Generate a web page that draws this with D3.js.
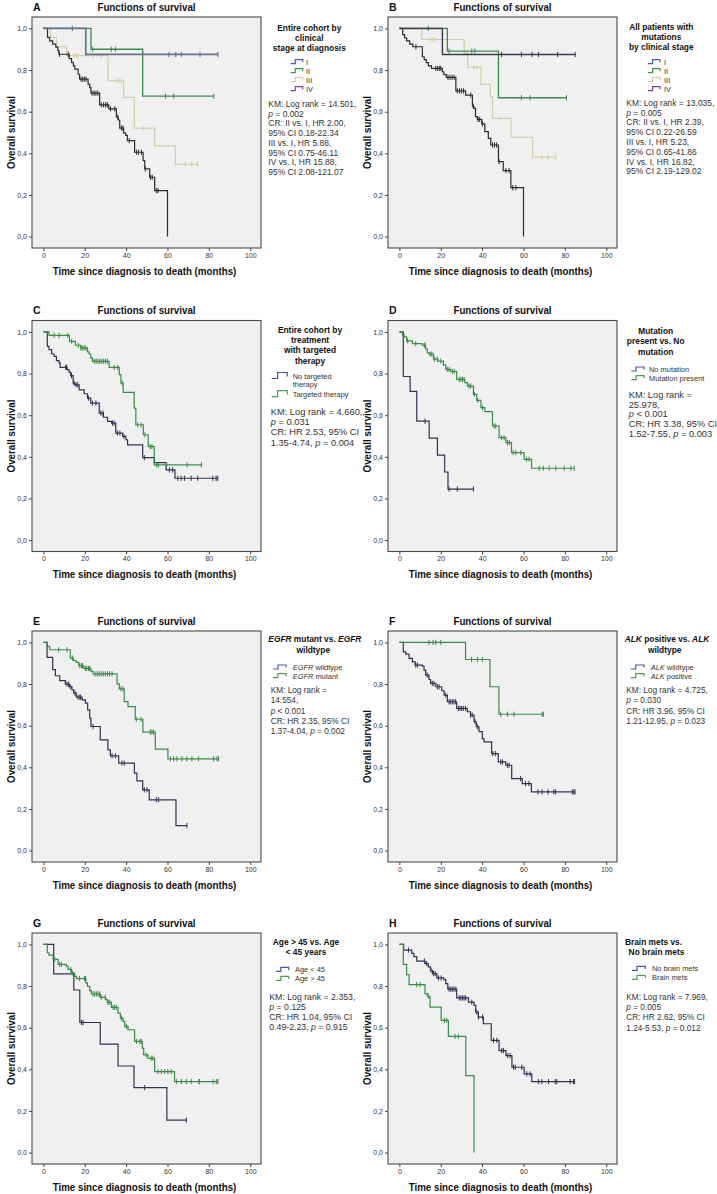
<!DOCTYPE html>
<html><head><meta charset="utf-8">
<script src="https://cdn.jsdelivr.net/npm/d3@7"></script>
<style>body{margin:0;background:#fff}svg{display:block}text{font-family:"Liberation Sans",Arial,sans-serif}</style>
</head><body><svg id="c" width="717" height="1194"></svg>
<script>
// ---------- tick labels ----------
const xTicks = [0, 20, 40, 60, 80, 100];
const yTicks = [0, 0.2, 0.4, 0.6, 0.8, 1.0];

// ---------- Panel A: entire cohort by clinical stage ----------
const A_I_events = [[20.5,0.875]];
const A_I_censored = [48,60.7,64,66.7,75.7,84.4];
const A_II_events = [[23,0.90],[48,0.675]];
const A_II_censored = [14,23.8,32.8,34.8,59,63,82.4];
const A_III_events = [[3.5,0.957],[6.3,0.913],[11.2,0.869],[31.3,0.749],[38.8,0.669],[44,0.521],[53.8,0.436],[63.8,0.347]];
const A_III_censored = [14.8,15.8,16.8,24,28,35.3,36.5,37.7,48.5,68.6,71.7,74.6];
const A_IV_events = [[2,0.957],[3,0.94],[4.5,0.925],[6,0.91],[7,0.893],[7.5,0.876],[12.5,0.855],[13.6,0.837],[14.5,0.82],[15.2,0.805],[16.8,0.78],[17.5,0.756],[21.6,0.732],[22.4,0.716],[23,0.689],[27.2,0.633],[31.6,0.614],[35.3,0.574],[36.2,0.56],[36.9,0.521],[38.8,0.497],[39.8,0.486],[40.6,0.461],[44.1,0.405],[48.2,0.365],[49,0.325],[51.4,0.285],[53.8,0.221],[60,0]];
const A_IV_censored = [7.8,12,18.2,19,19.8,20.6,23.5,24.5,25.4,26.3,28,29.1,30.1,30.9,32.5,34.5,36,37.8,38.5,41.5,45,46,47.4,49.3,51.8,52.6,54.6,55.4];

// ---------- Panel B: patients with mutations by clinical stage ----------
const B_I_events = [[20.8,0.875]];
const B_I_censored = [49.4,59,64.2,67.3,76.5,85];
const B_II_events = [[23.2,0.891],[47.9,0.667]];
const B_II_censored = [14,24,35,36.5,59,63.2,80.8];
const B_III_events = [[10.8,0.947],[31.3,0.88],[33,0.813],[39.4,0.731],[44,0.672],[45,0.568],[54,0.477],[64.4,0.382]];
const B_III_censored = [14.8,16,17.3,36,37.5,48.5,69,72,75.6];
const B_IV_events = [[1.6,0.97],[2.5,0.955],[3.5,0.94],[5,0.925],[6.5,0.912],[11.1,0.864],[12,0.85],[13,0.836],[14,0.82],[15.5,0.808],[20.8,0.792],[21.5,0.778],[22.7,0.765],[27.3,0.70],[32,0.68],[35.3,0.627],[36,0.616],[36.8,0.576],[37.7,0.563],[39.8,0.541],[41.3,0.504],[43,0.472],[44.2,0.44],[47.9,0.36],[50.2,0.317],[53.9,0.235],[60,0]];
const B_IV_censored = [8,17.6,18.5,19.3,20,23.5,24.5,25.5,26.5,28,29,30,31,34.5,35.7,38,38.8,40.2,45,46,47,48.2,51.5,53,54.8,56.3];

// ---------- Panel C: targeted therapy ----------
const C_noTT_events = [[1.9,0.931],[2.7,0.915],[4,0.894],[5.2,0.883],[6.3,0.862],[7.6,0.851],[8.1,0.83],[11.5,0.819],[12.4,0.807],[13.2,0.79],[14.4,0.754],[15.3,0.746],[17.3,0.722],[19.7,0.703],[21.3,0.682],[22.9,0.658],[27,0.61],[29,0.59],[31,0.57],[33,0.562],[35,0.514],[38.3,0.498],[39.9,0.482],[40.7,0.457],[48,0.396],[53.6,0.372],[59.3,0.337],[63.6,0.297]];
const C_noTT_censored = [10.8,11.2,13.6,14.8,15.8,16.6,21.8,23.7,25.4,27.8,28.8,33.4,34.2,35.8,37,39,48.8,60.9,62.5,65,66.6,68.2,71.4,74.6,81.9,83.5,84.3];
const C_TT_events = [[2.7,0.984],[12.6,0.955],[15.5,0.936],[18.1,0.923],[21.3,0.904],[22.1,0.894],[22.9,0.875],[23.7,0.859],[31.8,0.83],[36.7,0.795],[37.5,0.754],[38.6,0.71],[43.9,0.634],[44.7,0.554],[48.3,0.506],[50.7,0.449],[53.6,0.361]];
const C_TT_censored = [5.2,7.6,11.8,13.7,16.9,18.1,18.8,19.7,20.5,24.6,25.5,26.4,27.3,28.2,29.1,30,30.9,34.2,35.9,38.1,45.6,47.2,49.1,51.6,52.5,54.8,55.6,59.6,69.5,76.4];

// ---------- Panel D: mutation present vs none ----------
const D_noMut_events = [[1.9,0.786],[5.2,0.714],[8.4,0.571],[14.4,0.49],[18.4,0.408],[21.9,0.327],[23.5,0.245]];
const D_noMut_censored = [12.4,24,28,35.8];
const D_mut_events = [[1.5,0.986],[2.3,0.976],[3.5,0.957],[6.3,0.944],[11,0.936],[12.7,0.917],[13.5,0.9],[14.4,0.893],[16.5,0.869],[18.6,0.86],[21.3,0.841],[22.4,0.82],[24.8,0.81],[27.7,0.772],[31.6,0.756],[32.9,0.74],[35.8,0.7],[37.4,0.671],[39.4,0.636],[41.3,0.617],[45,0.548],[48.2,0.492],[51.5,0.468],[54.2,0.42],[60.3,0.388],[63.9,0.345]];
const D_mut_censored = [4,7.9,12,12.4,14.9,15.7,17.1,18.4,20,23.2,24,25.6,26.5,28.9,29.7,30.5,31.3,33.7,34.5,36.3,37.9,40.2,45.8,46.6,49.4,50.6,52.3,53.1,55,56.3,58.7,61.5,62.7,67.6,69.5,72.4,75.6,79.7,82.9,84.5];

// ---------- Panel E: EGFR ----------
const E_wt_events = [[1.8,0.928],[4.5,0.869],[5.8,0.84],[7.9,0.817],[10.6,0.8],[12.5,0.788],[13.8,0.772],[14.7,0.756],[15.9,0.737],[18.7,0.724],[20.3,0.708],[21.4,0.676],[22.4,0.636],[23,0.596],[27.5,0.532],[31.2,0.484],[32.4,0.455],[36.4,0.42],[44,0.372],[45.2,0.335],[48,0.292],[51.2,0.244],[64.1,0.12]];
const E_wt_censored = [11.4,12.2,13,15.3,16.7,17.6,18,24,33.2,34.8,38,39.1,48.8,50.1,54.6,55.7,69.4];
const E_mut_events = [[1.8,0.981],[3.1,0.965],[13,0.925],[14.5,0.913],[15.9,0.904],[17.1,0.888],[19.5,0.875],[23,0.861],[24,0.849],[35.6,0.801],[36.7,0.777],[39.1,0.716],[40.9,0.692],[44.4,0.631],[48.1,0.569],[54.1,0.487],[60.2,0.441]];
const E_mut_censored = [7.4,11.4,14,17.6,18.4,18.9,20.3,21,21.8,22.4,25,26,27,28,29,30,31,32,33.2,37.5,38.5,44.9,47.2,51.7,52.5,53.3,61.4,63,64.6,67,69.4,71.8,75,82.3,83.9,84.7];

// ---------- Panel F: ALK ----------
const F_wt_events = [[1.9,0.955],[3.1,0.944],[4.7,0.923],[6.3,0.907],[7.6,0.891],[11.1,0.886],[11.9,0.867],[12.7,0.843],[14.3,0.822],[15.1,0.803],[17.6,0.787],[20.5,0.768],[21.6,0.747],[23.2,0.715],[27.7,0.683],[32.8,0.667],[34.4,0.651],[36.1,0.619],[37.2,0.595],[38.5,0.571],[40.1,0.538],[40.9,0.522],[44.6,0.466],[47.8,0.426],[51.4,0.41],[54.3,0.346],[59.4,0.322],[63.8,0.282]];
const F_wt_censored = [7.9,8.7,13.5,15.9,16.7,18.4,19.2,22.4,24,24.8,25.6,26.4,27.2,28.5,29.3,30.1,30.9,32,34.4,35.2,36.6,37.7,45.2,46.5,49,49.8,52.2,53,58.6,61,62.6,67,69,71.8,74.7,75.5,83.6,84.4,84.9];
const F_pos_events = [[32,0.918],[43.8,0.787],[48.1,0.655]];
const F_pos_censored = [14.3,16.3,17.6,20,34.9,37.7,40.1,49,52.2,55.4,69,69.6];

// ---------- Panel G: age ----------
const G_lt45_events = [[5,0.859],[14.7,0.781],[17.6,0.625],[27.5,0.521],[36.1,0.416],[43.8,0.312],[59.7,0.156]];
const G_lt45_censored = [18.4,19.2,49,69.1];
const G_gt45_events = [[1.9,0.96],[2.7,0.949],[4.7,0.928],[7.1,0.904],[11.1,0.896],[11.9,0.88],[13.5,0.863],[15.1,0.847],[16,0.836],[20.5,0.815],[21.3,0.799],[22.4,0.778],[23.2,0.762],[27.5,0.746],[30.1,0.735],[30.9,0.722],[32.9,0.698],[36.1,0.67],[37.2,0.646],[38.5,0.63],[39.3,0.606],[40.9,0.59],[44.1,0.534],[47.8,0.502],[48.5,0.469],[50.6,0.453],[53.8,0.389],[63.4,0.341]];
const G_gt45_censored = [5.5,7.9,8.7,13.2,14,17.5,19.9,20.4,24,24.8,25.6,26.4,27.2,28,29.9,31.3,32.1,33.7,34.5,35.3,37.7,40.1,45,46.6,47.3,49.7,52.1,52.9,55.4,57,58.6,60.2,61.8,64.3,66.7,69.1,71.5,75.2,75.5,82,83.6,84.4];

// ---------- Panel H: brain metastases ----------
const H_no_events = [[2.1,0.973],[6,0.957],[7,0.941],[8.4,0.92],[12.4,0.908],[14,0.892],[15,0.876],[16,0.86],[18.1,0.839],[21.5,0.831],[22.4,0.812],[23.4,0.785],[27.7,0.743],[33.4,0.723],[36.1,0.707],[36.9,0.675],[38.2,0.651],[40.6,0.619],[44.4,0.539],[48.2,0.49],[51.5,0.466],[54.4,0.41],[60.3,0.378],[64,0.341]];
const H_no_censored = [4.4,12.1,13.2,15.3,16.5,17.3,18.9,20.2,24,24.8,25.6,26.4,27.3,28.9,29.7,30.5,31.3,32.1,35,37.4,38.2,40.2,45.5,47.1,49.5,50.3,52.4,53.5,55.2,56,59.2,61.6,63.2,67.3,68.9,72.1,75.3,76.1,82.6,84.2,84.7];
const H_brain_events = [[1.9,0.904],[3.5,0.855],[4.7,0.807],[12.4,0.764],[13.5,0.751],[14.8,0.699],[20.2,0.635],[23.7,0.558],[32.1,0.37],[36.1,0]];
const H_brain_censored = [8.4,10,14,21.8,22.9,26.9,28.5];

// ---------- styles ----------
const COL = {
  I:'#66708f', II:'#3e8a4c', III:'#d3cea6', IV:'#2c2c34',
  dark:'#2f3350', green:'#3d8a48'
};
const LEG = {I:'#4a5cb0', II:'#3f9a48', III:'#d8d0a4', IV:'#7a4590', blue:'#4556a8', green:'#4ea04e'};

const rowTops = [17, 320.5, 631, 933];
const colLefts = [32, 388];
const BW = 229, BH = 231;

const panels = [
 {letter:'A', row:0, col:0,
  series:[
   {ev:A_III_events, ce:A_III_censored, c:COL.III, w:1.2},
   {ev:A_IV_events, ce:A_IV_censored, c:COL.IV, w:1.2},
   {ev:A_II_events, ce:A_II_censored, c:COL.II, w:1.3},
   {ev:A_I_events, ce:A_I_censored, c:COL.I, w:1.7}],
  title:[{t:'Entire cohort by',x:309.3,y:27.7},{t:'clinical',x:309.3,y:37.7},{t:'stage at diagnosis',x:309.3,y:47.7}],
  items:{sx:290.7, sw:12, sh:4, tx:306, list:[{t:'I',y:61.7,c:LEG.I},{t:'II',y:70.7,c:LEG.II},{t:'III',y:79.7,c:LEG.III},{t:'IV',y:88.7,c:LEG.IV}]},
  km:{x:268.3, y0:104, dy:9.7, size:9, sx:0.94, lines:['KM: Log rank = 14.501,','*p* = 0.002','CR: II vs. I, HR 2.00,','95% CI 0.18-22.34','III  vs. I, HR 5.88,','95% CI 0.75-46.11','IV vs. I, HR 15.88,','95% CI 2.08-121.07']}},
 {letter:'B', row:0, col:1,
  series:[
   {ev:B_III_events, ce:B_III_censored, c:COL.III, w:1.2},
   {ev:B_IV_events, ce:B_IV_censored, c:COL.IV, w:1.2},
   {ev:B_II_events, ce:B_II_censored, c:COL.II, w:1.3},
   {ev:B_I_events, ce:B_I_censored, c:'#3a3c4c', w:1.4}],
  title:[{t:'All patients with',x:661.3,y:26.7},{t:'mutations',x:661.3,y:36.7},{t:'by clinical stage',x:661.3,y:47}],
  items:{sx:648, sw:12, sh:4, tx:664, list:[{t:'I',y:61.7,c:LEG.I},{t:'II',y:70.7,c:LEG.II},{t:'III',y:79.7,c:LEG.III},{t:'IV',y:88.7,c:LEG.IV}]},
  km:{x:626.3, y0:102.7, dy:9.8, size:9, sx:0.94, lines:['KM: Log rank = 13.035,','*p* = 0.005','CR: II vs. I, HR 2.39,','95% CI 0.22-26.59','III  vs. I, HR 5.23,','95% CI 0.65-41.86','IV vs. I, HR 16.82,','95% CI 2.19-129.02']}},
 {letter:'C', row:1, col:0,
  series:[
   {ev:C_noTT_events, ce:C_noTT_censored, c:COL.dark, w:1.2},
   {ev:C_TT_events, ce:C_TT_censored, c:COL.green, w:1.2}],
  title:[{t:'Entire cohort by',x:310,y:330},{t:'treatment',x:310,y:340},{t:'with targeted',x:310,y:350},{t:'therapy',x:310,y:360.5}],
  items:{sx:271.7, sw:15.5, sh:6, tx:292.7, list:[{t:'No targeted',t2:'therapy',y:376,sy:375.5,c:LEG.blue},{t:'Targeted therapy',y:393.7,c:LEG.green}]},
  km:{x:270.7, y0:411, dy:10.2, size:9.6, sx:0.97, lines:['KM: Log rank = 4.660,','*p* = 0.031','CR: HR 2.53, 95% CI','1.35-4.74, *p* = 0.004']}},
 {letter:'D', row:1, col:1,
  series:[
   {ev:D_noMut_events, ce:D_noMut_censored, c:COL.dark, w:1.2},
   {ev:D_mut_events, ce:D_mut_censored, c:COL.green, w:1.2}],
  title:[{t:'Mutation',x:655.7,y:330.7},{t:'present vs. No',x:655.7,y:341},{t:'mutation',x:655.7,y:351.5}],
  items:{sx:631.3, sw:12.7, sh:4, tx:649, list:[{t:'No mutation',y:369,c:LEG.blue},{t:'Mutation present',y:377.7,c:LEG.green}]},
  km:{x:628.7, y0:394, dy:9.7, size:9.6, sx:0.97, lines:['KM: Log rank =','25.978,','*p* < 0.001','CR: HR 3.38, 95% CI','1.52-7.55, *p* = 0.003']}},
 {letter:'E', row:2, col:0,
  series:[
   {ev:E_wt_events, ce:E_wt_censored, c:COL.dark, w:1.2},
   {ev:E_mut_events, ce:E_mut_censored, c:COL.green, w:1.2}],
  title:[{t:'*EGFR* mutant vs. *EGFR*',x:268.3,y:639.3,a:'start'},{t:'wildtype',x:313.3,y:650}],
  items:{sx:273, sw:13, sh:4, tx:292.7, list:[{t:'*EGFR* wildtype',y:667,c:LEG.blue},{t:'*EGFR* mutant',y:675.7,c:LEG.green}]},
  km:{x:270.7, y0:690, dy:10.2, size:9, sx:0.92, lines:['KM: Log rank =','14.554,','*p* < 0.001','CR: HR 2.35, 95% CI','1.37-4.04, *p* = 0.002']}},
 {letter:'F', row:2, col:1,
  series:[
   {ev:F_wt_events, ce:F_wt_censored, c:COL.dark, w:1.2},
   {ev:F_pos_events, ce:F_pos_censored, c:COL.green, w:1.2}],
  title:[{t:'*ALK* positive vs. *ALK*',x:667,y:639.3},{t:'wildtype',x:664.7,y:650}],
  items:{sx:630.7, sw:13.3, sh:4, tx:650.7, list:[{t:'*ALK* wildtype',y:667,c:LEG.blue},{t:'*ALK* positive',y:675.7,c:LEG.green}]},
  km:{x:626.3, y0:690, dy:10.2, size:9, sx:0.92, lines:['KM: Log rank = 4.725,','*p* = 0.030','CR: HR 3.96, 95% CI','1.21-12.95, *p* = 0.023']}},
 {letter:'G', row:3, col:0,
  series:[
   {ev:G_lt45_events, ce:G_lt45_censored, c:COL.dark, w:1.2},
   {ev:G_gt45_events, ce:G_gt45_censored, c:COL.green, w:1.2}],
  title:[{t:'Age > 45 vs. Age',x:306,y:941.7},{t:'< 45 years',x:306,y:951.7}],
  items:{sx:276, sw:12.7, sh:4, tx:295, list:[{t:'Age < 45',y:969.3,c:LEG.blue},{t:'Age > 45',y:978.3,c:LEG.green}]},
  km:{x:269.3, y0:997.3, dy:9.9, size:9, sx:0.97, lines:['KM: Log rank = 2.353,','*p* = 0.125','CR: HR 1.04, 95% CI','0.49-2.23, *p* = 0.915']}},
 {letter:'H', row:3, col:1,
  series:[
   {ev:H_no_events, ce:H_no_censored, c:COL.dark, w:1.2},
   {ev:H_brain_events, ce:H_brain_censored, c:COL.green, w:1.2}],
  title:[{t:'Brain mets vs.',x:653.5,y:941.7},{t:'No brain mets',x:656.5,y:951.7}],
  items:{sx:632, sw:13.3, sh:4, tx:652, list:[{t:'No brain mets',y:968.3,c:LEG.blue},{t:'Brain mets',y:977.3,c:LEG.green}]},
  km:{x:626.3, y0:996.7, dy:10.3, size:9, sx:0.92, lines:['KM: Log rank = 7.969,','*p* = 0.005','CR: HR 2.62, 95% CI','1.24-5.53, *p* = 0.012']}}
];

const svg = d3.select('#c');

function txt(g, x, y, str, o = {}) {
  let tr = `translate(${x},${y})`;
  if (o.rot) tr += ` rotate(${o.rot})`;
  tr += ` scale(${o.sx || 1},1)`;
  const t = g.append('text').attr('transform', tr)
    .attr('font-size', o.size || 9)
    .attr('font-weight', o.bold ? 'bold' : 'normal')
    .attr('text-anchor', o.anchor || 'start')
    .attr('dominant-baseline', 'central')
    .attr('fill', o.fill || '#222');
  str.split('*').forEach((seg, i) => {
    if (seg) t.append('tspan').attr('font-style', i % 2 ? 'italic' : null).text(seg);
  });
  return t;
}

function stepPoints(ev, ce) {
  const pts = [[0, 1]];
  let cur = 1;
  ev.forEach(([t, v]) => { pts.push([t, cur]); pts.push([t, v]); cur = v; });
  const lastEv = ev.length ? ev[ev.length - 1][0] : 0;
  const end = Math.max(d3.max(ce) || 0, lastEv);
  if (end > pts[pts.length - 1][0]) pts.push([end, cur]);
  return pts;
}
function survAt(ev, t) {
  let v = 1;
  ev.forEach(([te, sv]) => { if (te <= t) v = sv; });
  return v;
}

panels.forEach(p => {
  const left = colLefts[p.col], top = rowTops[p.row];
  const x = d3.scaleLinear().domain([-5.5, 105.2]).range([left, left + BW]);
  const y = d3.scaleLinear().domain([-0.055, 1.055]).range([top + BH, top]);
  const g = svg.append('g');

  g.append('rect').attr('x', left).attr('y', top).attr('width', BW).attr('height', BH).attr('fill', '#f0f0f0');

  const ax = g.append('g').attr('transform', `translate(0,${top + BH})`)
    .call(d3.axisBottom(x).tickValues(xTicks).tickSize(3).tickPadding(2).tickFormat(d3.format('d')));
  const ay = g.append('g').attr('transform', `translate(${left},0)`)
    .call(d3.axisLeft(y).tickValues(yTicks).tickSize(3).tickPadding(2).tickFormat(d => d3.format('.1f')(d).replace('.', ',')));
  [ax, ay].forEach(a => {
    a.select('.domain').remove();
    a.selectAll('line').attr('stroke', '#444');
    a.selectAll('text').attr('font-size', 7).attr('fill', '#333').attr('font-family', '"Liberation Sans",Arial,sans-serif');
  });

  const line = d3.line().x(d => x(d[0])).y(d => y(d[1]));
  p.series.forEach(s => {
    g.append('path').attr('d', line(stepPoints(s.ev, s.ce)))
      .attr('fill', 'none').attr('stroke', s.c).attr('stroke-width', s.w);
    g.selectAll(null).data(s.ce).enter().append('line')
      .attr('x1', d => x(d)).attr('x2', d => x(d))
      .attr('y1', d => y(survAt(s.ev, d)) - 2.6).attr('y2', d => y(survAt(s.ev, d)) + 2.6)
      .attr('stroke', s.c).attr('stroke-width', 1);
  });

  g.append('rect').attr('x', left).attr('y', top).attr('width', BW).attr('height', BH)
    .attr('fill', 'none').attr('stroke', '#4a4a4a').attr('stroke-width', 1.1);

  // titles & labels
  txt(g, left + 1, top - 10.5, p.letter, {size: 10.5, bold: true, fill: '#111'});
  txt(g, left + BW / 2, top - 10.5, 'Functions of survival', {size: 10.5, bold: true, anchor: 'middle', sx: 0.93, fill: '#111'});
  txt(g, left + BW / 2 - 2, top + BH + 22.5, 'Time since diagnosis to death (months)', {size: 11.5, bold: true, anchor: 'middle', sx: 0.85, fill: '#111'});
  txt(g, left - 21.5, top + BH / 2, 'Overall survival', {size: 11, bold: true, anchor: 'middle', rot: -90, sx: 0.89, fill: '#111'});

  // legend title
  p.title.forEach(l => txt(g, l.x, l.y, l.t, {size: 9, bold: true, anchor: l.a || 'middle', sx: 0.93, fill: '#111'}));
  // legend items
  const it = p.items;
  it.list.forEach(d => {
    const sy = (d.sy !== undefined ? d.sy : d.y) + it.sh / 2;
    const w = it.sw, h = it.sh;
    g.append('path')
      .attr('d', `M${it.sx},${sy} H${it.sx + w * 0.38} V${sy - h} H${it.sx + w} V${sy - h * 0.35}`)
      .attr('fill', 'none').attr('stroke', d.c).attr('stroke-width', 1.2);
    txt(g, it.tx, d.y, d.t, {size: 8, sx: 0.93, fill: '#333'});
    if (d.t2) txt(g, it.tx, d.y + 8.3, d.t2, {size: 8, sx: 0.93, fill: '#333'});
  });
  // KM / CR text
  p.km.lines.forEach((l, i) => txt(g, p.km.x, p.km.y0 + i * p.km.dy, l, {size: p.km.size, sx: p.km.sx, fill: '#333'}));
});
</script>
</body></html>
